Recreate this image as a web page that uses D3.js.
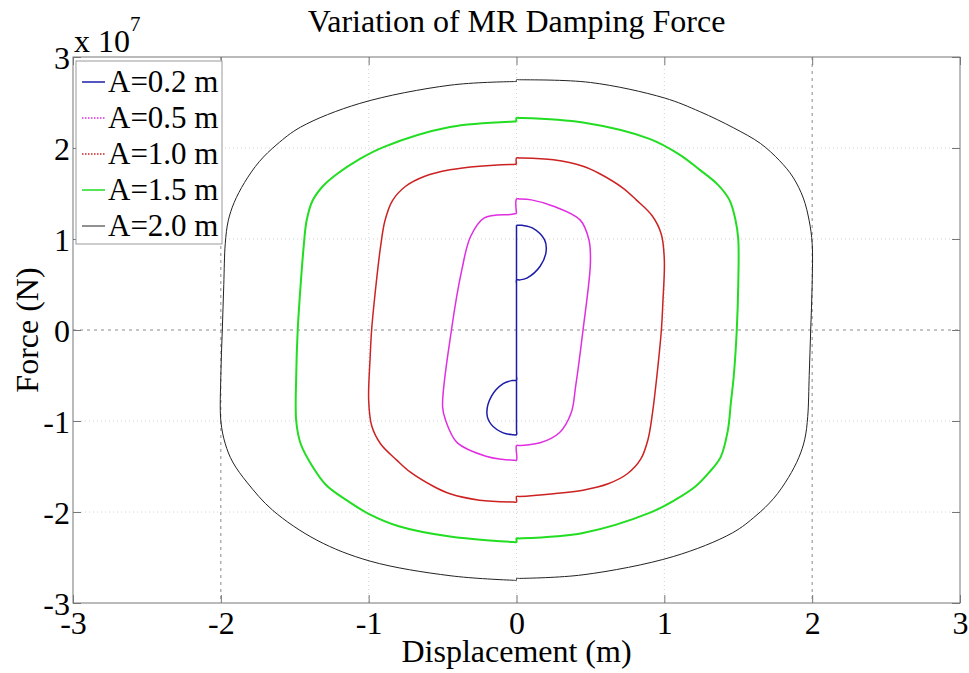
<!DOCTYPE html>
<html lang="en">
<head>
<meta charset="UTF-8">
<title>Variation of MR Damping Force</title>
<script src="https://d3js.org/d3.v7.min.js"></script>
<style>
  body { margin:0; background:#fff; }
  svg text { font-family:"Liberation Serif","Times New Roman",serif; fill:#000; }
  .grid line { stroke:#d4d4d4; stroke-dasharray:1,3; }
  .grid line.strong { stroke:#8a8a8a; stroke-dasharray:3,4; }
  .axis path { display:none; }
  .axis line { stroke:#777; }
  .loop { fill:none; }
</style>
</head>
<body>
<div id="chart"></div>
<script>
// x / y tick values (force in units of 1e7 N)
var xTicks = [-3, -2, -1, 0, 1, 2, 3];
var yTicks = [-3, -2, -1, 0, 1, 2, 3];

// legend labels, one per loop
var labels = ["A=0.2 m", "A=0.5 m", "A=1.0 m", "A=1.5 m", "A=2.0 m"];

// loops: [displacement m, force x1e7 N]
var loop02 = [[0,1.15],[0.04,1.15],[0.11,1.12],[0.19,0.99],[0.20,0.86],[0.16,0.70],[0.07,0.57],[0.02,0.55],[0,0.55],
  [0,0.5],[0,-0.5],[0,-0.55],[-0.03,-0.555],[-0.09,-0.59],[-0.17,-0.73],[-0.20,-0.92],[-0.17,-1.04],
  [-0.09,-1.13],[-0.03,-1.15],[0,-1.15],[0,-1.1],[0,1.1],[0,1.15]];

var loop05 = [[0,1.28],[0,1.44],[0.02,1.44],[0.1,1.43],[0.25,1.36],[0.43,1.21],[0.49,0.99],[0.50,0.74],[0.45,0.0],
  [0.40,-0.62],[0.37,-0.91],[0.29,-1.13],[0.16,-1.24],[0.02,-1.27],[0,-1.27],[0,-1.43],[-0.02,-1.43],[-0.1,-1.42],
  [-0.20,-1.39],[-0.40,-1.24],[-0.48,-0.99],[-0.50,-0.84],[-0.44,0.0],[-0.37,0.66],[-0.31,1.03],[-0.22,1.23],
  [-0.04,1.27],[0,1.28]];

var loop10 = [[0,1.82],[0,1.89],[0.02,1.89],[0.25,1.87],[0.45,1.80],[0.56,1.72],[0.72,1.56],[0.81,1.43],[0.92,1.25],
  [0.98,1.05],[1.0,0.77],[0.99,0.3],[0.98,0],[0.95,-0.5],[0.92,-0.91],[0.89,-1.2],[0.84,-1.42],[0.75,-1.58],
  [0.62,-1.69],[0.45,-1.76],[0.25,-1.80],[0.02,-1.83],[0,-1.83],[0,-1.89],[-0.02,-1.89],[-0.25,-1.87],
  [-0.45,-1.80],[-0.56,-1.72],[-0.72,-1.56],[-0.81,-1.43],[-0.92,-1.25],[-0.98,-1.05],[-1.0,-0.77],
  [-0.99,-0.3],[-0.98,0],[-0.95,0.5],[-0.92,0.91],[-0.89,1.2],[-0.84,1.42],[-0.75,1.58],[-0.62,1.69],
  [-0.45,1.76],[-0.25,1.80],[-0.02,1.82],[0,1.82]];

var loop15 = [[0,2.29],[0,2.33],[0.02,2.33],[0.45,2.28],[0.9,2.10],[1.1,1.93],[1.24,1.76],[1.36,1.60],[1.44,1.43],
  [1.48,1.22],[1.5,1.0],[1.5,0.5],[1.49,0.0],[1.47,-0.5],[1.45,-0.8],[1.43,-1.1],[1.38,-1.40],[1.30,-1.57],
  [1.21,-1.72],[1.07,-1.87],[0.9,-2.01],[0.45,-2.23],[0.02,-2.29],[0,-2.29],[0,-2.33],[-0.02,-2.33],[-0.45,-2.27],
  [-0.79,-2.16],[-1.0,-2.02],[-1.15,-1.87],[-1.29,-1.70],[-1.38,-1.5],[-1.46,-1.25],[-1.49,-1.0],[-1.49,-0.5],
  [-1.48,0.0],[-1.46,0.5],[-1.44,0.91],[-1.42,1.2],[-1.38,1.42],[-1.31,1.58],[-1.21,1.72],[-1.07,1.87],
  [-0.9,2.01],[-0.45,2.23],[-0.02,2.29],[0,2.29]];

var loop20 = [[0,2.73],[0,2.75],[0.02,2.75],[0.5,2.72],[1.0,2.55],[1.24,2.40],[1.47,2.22],[1.65,2.05],[1.78,1.86],
  [1.87,1.68],[1.94,1.45],[1.98,1.2],[2.0,0.95],[2.0,0.5],[1.99,0.0],[1.98,-0.5],[1.97,-0.95],[1.95,-1.2],
  [1.91,-1.40],[1.84,-1.62],[1.74,-1.85],[1.62,-2.04],[1.46,-2.23],[1.06,-2.49],[0.45,-2.69],[0.02,-2.73],
  [0,-2.73],[0,-2.75],[-0.02,-2.75],[-0.45,-2.70],[-0.99,-2.54],[-1.35,-2.31],[-1.65,-1.98],[-1.82,-1.68],
  [-1.92,-1.45],[-1.97,-1.25],[-2.0,-1.0],[-2.0,-0.5],[-1.99,0.0],[-1.98,0.5],[-1.97,0.95],[-1.95,1.2],
  [-1.91,1.40],[-1.84,1.62],[-1.74,1.85],[-1.62,2.04],[-1.46,2.23],[-1.06,2.49],[-0.45,2.69],[-0.02,2.73],
  [0,2.73]];

var loops = [loop02, loop05, loop10, loop15, loop20];

// styles for each series
var colors = ["#1c1ca8", "#e02ee0", "#cc2222", "#22dd22", "#222222"];
var widths = [1.5, 1.5, 1.5, 2, 1];
var legendDash = [null, "1.5,1.5", "1.5,1.5", null, null];

var W = 969, H = 673;
// plot box edges (named so they don't clash with window.top)
var pLeft = 73, pRight = 960, pTop = 57, pBottom = 603;

var svg = d3.select("#chart").append("svg").attr("width", W).attr("height", H);

var x = d3.scaleLinear().domain([-3, 3]).range([pLeft, pRight]);
var y = d3.scaleLinear().domain([-3, 3]).range([pBottom, pTop]);

//grid lines
var grid = svg.append("g").attr("class", "grid");
grid.selectAll("line.gx").data(xTicks.slice(1, -1)).enter().append("line")
  .attr("class", function(d) { return Math.abs(d) == 2 ? "gx strong" : "gx"; })
  .attr("x1", function(d) { return x(d); }).attr("x2", function(d) { return x(d); })
  .attr("y1", pTop).attr("y2", pBottom);
grid.selectAll("line.gy").data(yTicks.slice(1, -1)).enter().append("line")
  .attr("class", function(d) { return d == 0 ? "gy strong" : "gy"; })
  .attr("y1", function(d) { return y(d); }).attr("y2", function(d) { return y(d); })
  .attr("x1", pLeft).attr("x2", pRight);

//axes with inward ticks
var fmt = function(d) { return String(d); };
svg.append("g").attr("class", "axis").attr("transform", "translate(0," + pBottom + ")")
  .call(d3.axisBottom(x).tickValues(xTicks).tickSizeInner(-8).tickSizeOuter(0).tickPadding(8).tickFormat(fmt))
  .selectAll("text").attr("font-size", 32);
svg.append("g").attr("class", "axis").attr("transform", "translate(" + pLeft + ",0)")
  .call(d3.axisLeft(y).tickValues(yTicks).tickSizeInner(-8).tickSizeOuter(0).tickPadding(3).tickFormat(fmt))
  .selectAll("text").attr("font-size", 32).attr("dy", "0.36em");
svg.append("g").attr("class", "axis").attr("transform", "translate(0," + pTop + ")")
  .call(d3.axisTop(x).tickValues(xTicks).tickSizeInner(-8).tickSizeOuter(0).tickFormat(""));
svg.append("g").attr("class", "axis").attr("transform", "translate(" + pRight + ",0)")
  .call(d3.axisRight(y).tickValues(yTicks).tickSizeInner(-8).tickSizeOuter(0).tickFormat(""));

//plot box
svg.append("rect").attr("x", pLeft).attr("y", pTop)
  .attr("width", pRight - pLeft).attr("height", pBottom - pTop)
  .attr("fill", "none").attr("stroke", "#777");

//the loops
var line = d3.line()
  .x(function(d) { return x(d[0]); })
  .y(function(d) { return y(d[1]); })
  .curve(d3.curveCatmullRom.alpha(0.5));

svg.append("g").selectAll("path").data(loops).enter().append("path")
  .attr("class", "loop")
  .attr("d", line)
  .attr("stroke", function(d, i) { return colors[i]; })
  .attr("stroke-width", function(d, i) { return widths[i]; });

//title and axis labels
svg.append("text").attr("x", (pLeft + pRight) / 2).attr("y", 32)
  .attr("text-anchor", "middle").attr("font-size", 32).text("Variation of MR Damping Force");
svg.append("text").attr("x", (pLeft + pRight) / 2).attr("y", 662)
  .attr("text-anchor", "middle").attr("font-size", 32).text("Displacement (m)");
svg.append("text").attr("transform", "translate(38," + ((pTop + pBottom) / 2) + ") rotate(-90)")
  .attr("text-anchor", "middle").attr("font-size", 32).text("Force (N)");

//exponent label
var ex = svg.append("text").attr("x", 74).attr("y", 52).attr("font-size", 32);
ex.append("tspan").text("x 10");
ex.append("tspan").attr("font-size", 21).attr("dy", -21).text("7");

//legend
var lg = svg.append("g");
lg.append("rect").attr("x", 76).attr("y", 61).attr("width", 146).attr("height", 183)
  .attr("fill", "#fff").attr("stroke", "#999");
var rows = lg.selectAll("g.row").data(labels).enter().append("g").attr("class", "row")
  .attr("transform", function(d, i) { return "translate(0," + (82 + i * 36) + ")"; });
rows.append("line").attr("x1", 82).attr("x2", 105).attr("y1", 0).attr("y2", 0)
  .attr("stroke", function(d, i) { return colors[i]; })
  .attr("stroke-width", function(d, i) { return Math.min(widths[i], 1.5); })
  .attr("stroke-dasharray", function(d, i) { return legendDash[i]; });
rows.append("text").attr("x", 108).attr("y", 10).attr("font-size", 31).text(function(d) { return d; });
</script>
</body>
</html>
